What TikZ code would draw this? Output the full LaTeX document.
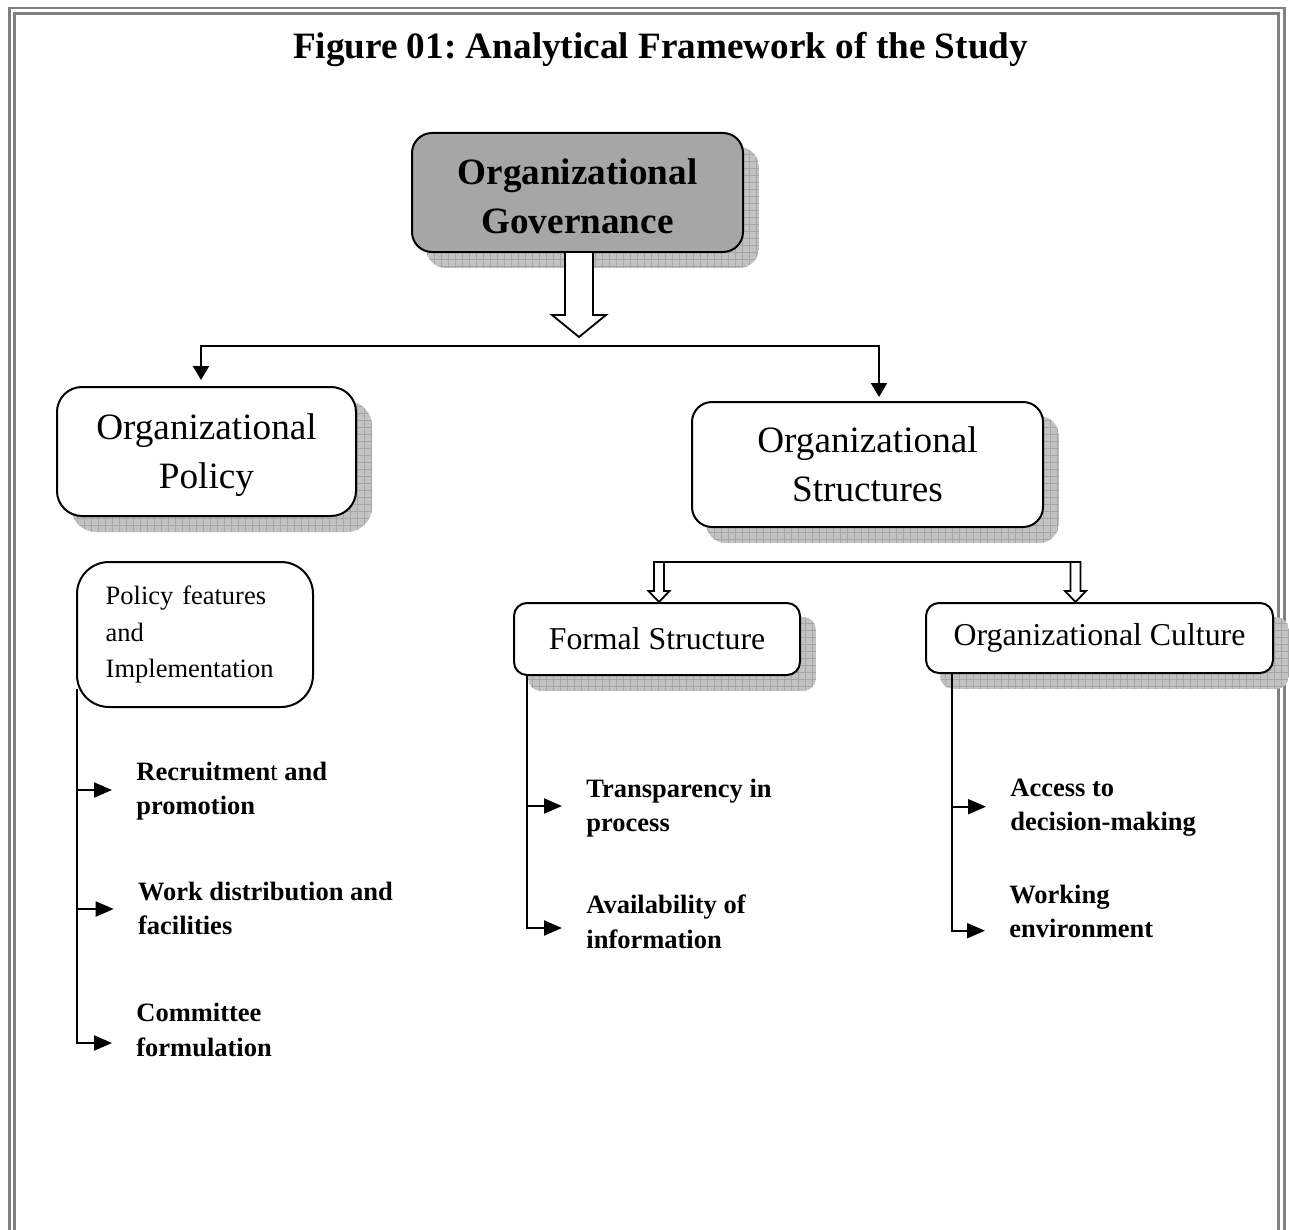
\documentclass[tikz,border=0pt]{standalone}
\usepackage{fontspec}
\setmainfont{Liberation Serif}
\frenchspacing
\usetikzlibrary{arrows.meta,calc,backgrounds}
\newcommand\fbig{\fontsize{18.6pt}{24.5pt}\selectfont}
\newcommand\fmed{\fontsize{15.9pt}{20pt}\selectfont}
\newcommand\fsmall{\fontsize{13.25pt}{17.25pt}\selectfont}
\newcommand\boxshadow[2]{%
  \begin{scope}
    \clip[rounded corners=#2] ($(#1.south west)+(15,15)$) rectangle ($(#1.north east)+(15,15)$);
    \fill[shfill] ($(#1.south west)+(15,15)$) rectangle ($(#1.north east)+(15,15)$);
    \draw[shgrid, step=3.5pt] ($(#1.south west)+(15,15)$) grid ($(#1.north east)+(15,15)$);
  \end{scope}}
\begin{document}
\begin{tikzpicture}[x=0.5pt,y=-0.5pt,
  box/.style={draw=black, line width=1pt, fill=white, inner sep=0pt, align=center},
  shfill/.style={fill=gray!48},
  shgrid/.style={draw=gray!70, line width=0.35pt},
  tree/.style={line width=1pt, -{Triangle[length=7pt,width=8pt]}},
  branch/.style={line width=1pt, -{Triangle[length=9pt,width=7.5pt]}},
  plain/.style={line width=1pt},
  hollow/.style={draw=black, line width=0.9pt, fill=white, line join=miter},
  item/.style={anchor=north west, inner sep=0pt, align=left, font=\fsmall\bfseries},
  frame/.style={draw=gray, line width=1.35pt}]
\useasboundingbox (0,0) rectangle (1289,1230);

% title
\node[anchor=base, inner sep=0pt, font=\fbig\bfseries] (title) at (660.5,59) {Figure 01: Analytical Framework of the Study};

% main boxes
\node[box, font=\fbig\bfseries, fill=gray!70, rounded corners=10pt, minimum width=165.5pt, minimum height=59.5pt] (gov) at (577.5,192.5) {\rule{0pt}{16.8pt}Organizational\\Governance};
\node[box, font=\fbig, rounded corners=12.5pt, minimum width=149.5pt, minimum height=64.5pt] (pol) at (206.5,451.5) {\rule{0pt}{16.8pt}Organizational\\Policy};
\node[box, font=\fbig, rounded corners=10pt, minimum width=175.5pt, minimum height=62.5pt] (str) at (867.5,464.5) {Organizational\\Structures};
\node[box, align=left, rounded corners=16pt, text width=89.3pt, inner xsep=14.35pt, minimum width=118pt, minimum height=72.5pt, font=\fontsize{13.25pt}{18.25pt}\selectfont] (pfi) at (195,634.5) {Policy features\\and\\Implementation};
\node[box, font=\fmed, rounded corners=6.5pt, minimum width=143pt, minimum height=36pt] (fs) at (657,639) {Formal Structure};
\node[box, font=\fmed, rounded corners=6.5pt, minimum width=173.5pt, minimum height=35pt] (cul) at (1099.5,638) {Organizational Culture};

% items
\node[item] (i1) at (136,761.7) {Recruitmen{\mdseries t} and\\promotion};
\node[item] (i2) at (137.7,881.7) {Work distribution and\\facilities};
\node[item] (i3) at (136,1002.7) {Committee\\formulation};
\node[item] (i4) at (586,778.4) {Transparency in\\process};
\node[item] (i5) at (586,894.7) {Availability of\\information};
\node[item] (i6) at (1010,778.4) {Access to\\decision-making};
\node[item] (i7) at (1009,884.7) {Working\\environment};

% background: frame and shadows
\begin{pgfonlayer}{background}
  \draw[frame] (9.7,1232) -- (9.7,8) -- (1284.5,8) -- (1284.5,1232);
  \draw[frame] (14.2,1232) -- (14.2,13.7) -- (1278.5,13.7) -- (1278.5,1232);
  \boxshadow{gov}{10pt}
  \boxshadow{pol}{12.5pt}
  \boxshadow{str}{10pt}
  \boxshadow{fs}{6.5pt}
  \boxshadow{cul}{6.5pt}
\end{pgfonlayer}

% block arrow below governance
\coordinate (ba) at ($(gov.south)+(1.5,0)$);
\filldraw[hollow] ($(ba)+(-14,0)$) -- ++(0,62) -- ++(-13,0) -- ($(ba)+(0,84)$) -- ($(ba)+(27,62)$) -- ++(-13,0) -- ++(0,-62);

% tree to policy and structures
\coordinate (j) at ($(gov.south)+(1.5,93)$);
\draw[tree] (j) -| ($(pol.north)+(-5.5,-6)$);
\draw[tree] (j) -| ($(str.north)+(11.5,-4)$);

% hollow arrows to formal structure and culture
\coordinate (hl) at ($(fs.north)+(2,0)$);
\coordinate (hr) at ($(cul.north)+(-24,0)$);
\draw[plain] ($(hl)+(-5,-40)$) -- ($(hr)+(5,-40)$);
\draw[hollow] (hl) -- ++(-10.5,-11) -- ++(5.5,0) -- ++(0,-29) -- ++(10,0) -- ++(0,29) -- ++(5.5,0) -- cycle;
\draw[hollow] (hr) -- ++(-10.5,-11) -- ++(5.5,0) -- ++(0,-29) -- ++(10,0) -- ++(0,29) -- ++(5.5,0) -- cycle;

% branch tips
\coordinate (t1) at ($(i1.north west)+(-24,28.3)$);
\coordinate (t2) at ($(i2.north west)+(-24,27.3)$);
\coordinate (t3) at ($(i3.north west)+(-24,40.3)$);
\coordinate (t4) at ($(i4.north west)+(-24,27.6)$);
\coordinate (t5) at ($(i5.north west)+(-24,33.3)$);
\coordinate (t6) at ($(i6.north west)+(-24,28.3)$);
\coordinate (t7) at ($(i7.north west)+(-24,46)$);

% policy branches
\coordinate (pv) at ($(pfi.south west)+(0.5,-19)$);
\draw[branch] (pv) |- (t3);
\draw[branch] (pv |- t1) -- (t1);
\draw[branch] (pv |- t2) -- (t2);

% formal structure branches
\coordinate (fv) at ($(fs.south west)+(14,0)$);
\draw[branch] (fv) |- (t5);
\draw[branch] (fv |- t4) -- (t4);

% culture branches
\coordinate (cv) at ($(cul.south west)+(27,0)$);
\draw[branch] (cv) |- (t7);
\draw[branch] (cv |- t6) -- (t6);
\end{tikzpicture}
\end{document}
